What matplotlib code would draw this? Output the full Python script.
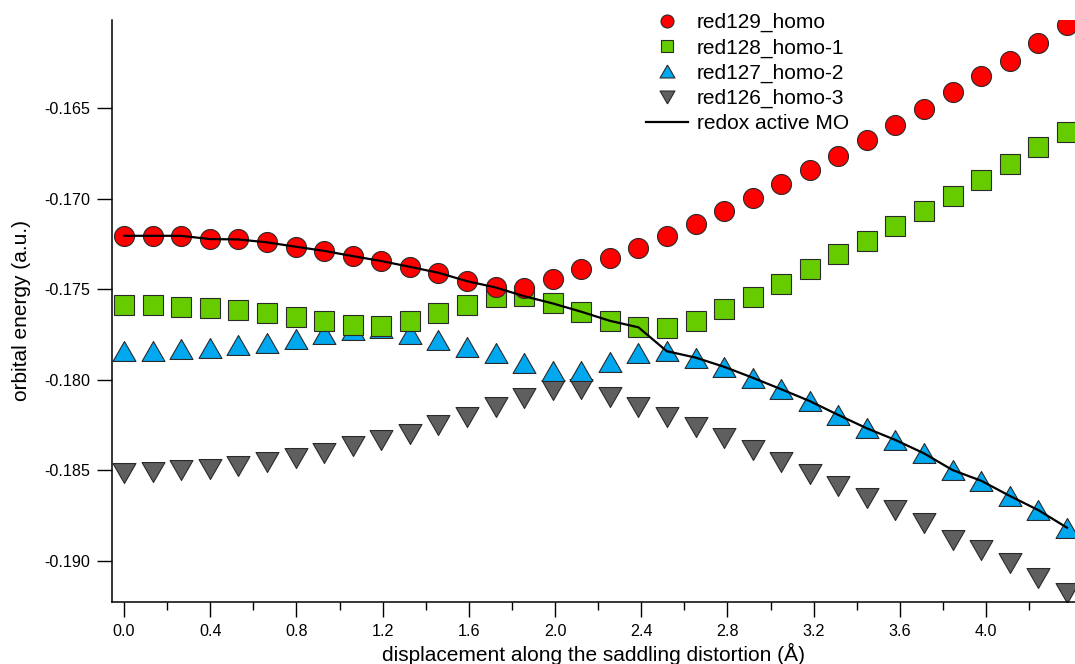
import matplotlib
matplotlib.use("Agg")
import matplotlib.pyplot as plt
from matplotlib.ticker import FixedLocator, FormatStrFormatter

plt.rcParams['font.family'] = ['Liberation Sans', 'DejaVu Sans']
plt.rcParams['axes.unicode_minus'] = False

# desplazamiento (Å)
x = [0.0, 0.133, 0.265, 0.398, 0.530, 0.663, 0.796, 0.928, 1.061, 1.193,
     1.326, 1.459, 1.591, 1.724, 1.856, 1.989, 2.122, 2.254, 2.387, 2.519,
     2.652, 2.785, 2.917, 3.050, 3.182, 3.315, 3.448, 3.580, 3.713, 3.845,
     3.978, 4.111, 4.243, 4.376]

homo = [-0.17205, -0.17205, -0.17205, -0.17223, -0.17225, -0.17241, -0.17265, -0.17288,
        -0.17317, -0.17344, -0.17376, -0.17409, -0.17455, -0.17490, -0.17492, -0.17442,
        -0.17389, -0.17329, -0.17271, -0.17205, -0.17140, -0.17067, -0.16997, -0.16919,
        -0.16842, -0.16765, -0.16677, -0.16594, -0.16507, -0.16410, -0.16323, -0.16241,
        -0.16140, -0.16042]

homo1 = [-0.17587, -0.17587, -0.17597, -0.17602, -0.17615, -0.17630, -0.17652, -0.17674,
         -0.17698, -0.17703, -0.17674, -0.17630, -0.17587, -0.17545, -0.17538, -0.17578,
         -0.17624, -0.17674, -0.17710, -0.17716, -0.17674, -0.17609, -0.17541, -0.17471,
         -0.17389, -0.17307, -0.17232, -0.17151, -0.17068, -0.16986, -0.16897, -0.16809,
         -0.16715, -0.16632]

homo2 = [-0.17839, -0.17839, -0.17832, -0.17826, -0.17808, -0.17795, -0.17773, -0.17746,
         -0.17723, -0.17714, -0.17746, -0.17780, -0.17817, -0.17854, -0.17906, -0.17950,
         -0.17950, -0.17900, -0.17850, -0.17842, -0.17877, -0.17928, -0.17988, -0.18052,
         -0.18117, -0.18194, -0.18268, -0.18332, -0.18406, -0.18498, -0.18557, -0.18641,
         -0.18719, -0.18816]

homo3 = [-0.18514, -0.18507, -0.18499, -0.18494, -0.18477, -0.18454, -0.18433, -0.18402,
         -0.18365, -0.18334, -0.18299, -0.18249, -0.18204, -0.18152, -0.18102, -0.18055,
         -0.18049, -0.18095, -0.18148, -0.18204, -0.18262, -0.18323, -0.18386, -0.18452,
         -0.18520, -0.18586, -0.18652, -0.18719, -0.18790, -0.18886, -0.18939, -0.19013,
         -0.19092, -0.19177]

# orbital redox activo: homo hasta 1.72, luego homo-1, luego homo-2
redox = homo[:14] + homo1[14:19] + homo2[19:]

tri_up = [(0, 1), (-1.15, -1), (1.15, -1), (0, 1)]
tri_down = [(0, -1), (-1.15, 1), (1.15, 1), (0, -1)]

fig = plt.figure(figsize=(10.75, 6.64), dpi=100)
ax = fig.add_axes([112 / 1075, 1 - 602 / 664, 1 - 112 / 1075, (602 - 20) / 664])

edge = "#2a2a2a"
h3, = ax.plot(x, homo3, linestyle='none', marker=tri_down, markersize=16.5,
              markerfacecolor="#5f5f5f", markeredgecolor=edge, markeredgewidth=0.8,
              label="red126_homo-3", zorder=2)
h2, = ax.plot(x, homo2, linestyle='none', marker=tri_up, markersize=16.5,
              markerfacecolor="#00a8f0", markeredgecolor=edge, markeredgewidth=0.8,
              label="red127_homo-2", zorder=3)
h1, = ax.plot(x, homo1, linestyle='none', marker='s', markersize=14,
              markerfacecolor="#66cc00", markeredgecolor=edge, markeredgewidth=0.8,
              label="red128_homo-1", zorder=4)
h0, = ax.plot(x, homo, linestyle='none', marker='o', markersize=14.4,
              markerfacecolor="#ff0000", markeredgecolor=edge, markeredgewidth=0.8,
              label="red129_homo", zorder=5)
hr, = ax.plot(x, redox, '-', color="black", linewidth=1.6,
              label="redox active MO", zorder=6)

ax.set_xlim(-0.0557, 4.413)
ax.set_ylim(-0.19226, -0.16014)

ax.xaxis.set_major_locator(FixedLocator([0.0, 0.4, 0.8, 1.2, 1.6, 2.0, 2.4, 2.8, 3.2, 3.6, 4.0]))
ax.xaxis.set_minor_locator(FixedLocator([0.2, 0.6, 1.0, 1.4, 1.8, 2.2, 2.6, 3.0, 3.4, 3.8, 4.2]))
ax.xaxis.set_major_formatter(FormatStrFormatter('%.1f'))
ax.yaxis.set_major_locator(FixedLocator([-0.190, -0.185, -0.180, -0.175, -0.170, -0.165]))
ax.yaxis.set_major_formatter(FormatStrFormatter('%.3f'))

for s in ['top', 'right']:
    ax.spines[s].set_visible(False)
for s in ['left', 'bottom']:
    ax.spines[s].set_linewidth(1.1)

ax.tick_params(axis='both', which='major', direction='out', length=11, width=1.0,
               labelsize=11.6, pad=5)
ax.tick_params(axis='x', which='minor', direction='out', length=6, width=1.0)

ax.set_xlabel("displacement along the saddling distortion (Å)", fontsize=15, labelpad=3)
ax.set_ylabel("orbital energy (a.u.)", fontsize=15, labelpad=9)

leg = fig.legend(handles=[h0, h1, h2, h3, hr], loc='upper left',
                 bbox_to_anchor=(646 / 1075, 1 - 13 / 664), frameon=False,
                 fontsize=15, markerscale=0.65, handlelength=2.0, handletextpad=0.45,
                 labelspacing=0.29, borderpad=0, borderaxespad=0)

fig.savefig("out.png", dpi=100)
